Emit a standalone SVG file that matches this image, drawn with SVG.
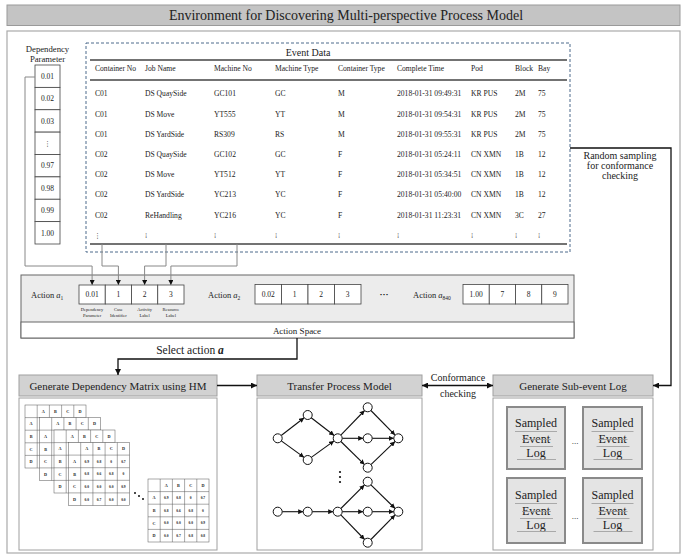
<svg xmlns="http://www.w3.org/2000/svg" width="692" height="556" viewBox="0 0 692 556">
<defs>
<style>
.t{font-family:"Liberation Serif","Times New Roman",serif;fill:#222}
.bar{fill:#d2d2d2;stroke:#a0a0a0;stroke-width:1}
.box{fill:#fff;stroke:#a0a0a0;stroke-width:1}
.cell{fill:#fff;stroke:#444;stroke-width:0.8}
.conn{fill:none;stroke:#888;stroke-width:1}
.flow{fill:none;stroke:#111;stroke-width:1.3}
.pn{fill:#fff;stroke:#111;stroke-width:1}
.pe{fill:none;stroke:#111;stroke-width:1.1}
.mg{fill:#fff;stroke:#555;stroke-width:0.5}
.slog{fill:#e4e4e4;stroke:#8a8a8a;stroke-width:2}
.sl{stroke:#999;stroke-width:0.8}
.rule{stroke:#444;stroke-width:1.5}
.mt{font-family:"Liberation Serif",serif;font-weight:bold;font-size:4.2px;fill:#222;text-anchor:middle}
.mv{font-family:"Liberation Serif",serif;font-weight:bold;font-size:3.6px;fill:#222;text-anchor:middle}
</style>
<marker id="ah" viewBox="0 0 10 10" refX="10" refY="5" markerWidth="6" markerHeight="6" markerUnits="userSpaceOnUse" orient="auto-start-reverse"><path d="M0,0 L10,5 L0,10 z" fill="#111"/></marker>
<marker id="ahs" viewBox="0 0 10 10" refX="10" refY="5" markerWidth="5" markerHeight="5" markerUnits="userSpaceOnUse" orient="auto"><path d="M0,0 L10,5 L0,10 z" fill="#111"/></marker>
<marker id="ahg" viewBox="0 0 10 10" refX="10" refY="5" markerWidth="5" markerHeight="5" markerUnits="userSpaceOnUse" orient="auto"><path d="M0,0 L10,5 L0,10 z" fill="#111"/></marker>
<path id="grid" d="M12.2 0V63M24.4 0V63M36.6 0V63M48.8 0V63M0 12.6H61M0 25.2H61M0 37.8H61M0 50.4H61"/>
</defs>

<rect width="692" height="556" fill="#fff"/>

<!-- Title and frame -->
<g id="title">
<rect x="7" y="5" width="673" height="20.5" fill="#c4c4c4" stroke="#9a9a9a"/>
<text class="t" x="346" y="20" font-size="14" text-anchor="middle">Environment for Discovering Multi-perspective Process Model</text>
</g>
<rect id="frame" x="7" y="31" width="673" height="522" fill="none" stroke="#aaa" stroke-width="1.2"/>

<!-- Dependency parameter column -->
<g id="dep-param">
<text class="t" font-size="8.7" text-anchor="middle"><tspan x="47.5" y="52">Dependency</tspan><tspan x="47.5" y="62">Parameter</tspan></text>
<rect class="cell" x="35" y="65" width="25" height="22.375"/>
<rect class="cell" x="35" y="87.375" width="25" height="22.375"/>
<rect class="cell" x="35" y="109.75" width="25" height="22.375"/>
<rect class="cell" x="35" y="132.125" width="25" height="22.375"/>
<rect class="cell" x="35" y="154.5" width="25" height="22.375"/>
<rect class="cell" x="35" y="176.875" width="25" height="22.375"/>
<rect class="cell" x="35" y="199.25" width="25" height="22.375"/>
<rect class="cell" x="35" y="221.625" width="25" height="22.375"/>
<g class="t" font-size="7.5" text-anchor="middle">
<text x="47.5" y="79">0.01</text>
<text x="47.5" y="101.3">0.02</text>
<text x="47.5" y="123.6">0.03</text>
<text x="47.5" y="146" font-family="DejaVu Sans,sans-serif" font-size="7">⋮</text>
<text x="47.5" y="168.4">0.97</text>
<text x="47.5" y="190.8">0.98</text>
<text x="47.5" y="213.1">0.99</text>
<text x="47.5" y="235.5">1.00</text>
</g>
</g>

<!-- Event data table -->
<g id="event-data">
<rect x="86" y="43" width="484" height="209" fill="none" stroke="#4d6b8c" stroke-width="1" stroke-dasharray="3,2"/>
<text class="t" x="308" y="55.5" font-size="10" text-anchor="middle">Event Data</text>
<line class="rule" x1="90" y1="60" x2="567" y2="60"/>
<line class="rule" x1="90" y1="80" x2="567" y2="80"/>
<line class="rule" x1="90" y1="244" x2="567" y2="244" stroke="#222"/>
<g class="t" font-size="7.6">
<text y="71"><tspan x="95">Container No</tspan><tspan x="145">Job Name</tspan><tspan x="214">Machine No</tspan><tspan x="275">Machine Type</tspan><tspan x="338">Container Type</tspan><tspan x="397">Complete Time</tspan><tspan x="471">Pod</tspan><tspan x="515">Block</tspan><tspan x="538">Bay</tspan></text>
<text y="96"><tspan x="95">C01</tspan><tspan x="145">DS QuaySide</tspan><tspan x="214">GC101</tspan><tspan x="275">GC</tspan><tspan x="338">M</tspan><tspan x="397">2018-01-31 09:49:31</tspan><tspan x="471">KR PUS</tspan><tspan x="515">2M</tspan><tspan x="538">75</tspan></text>
<text y="116.5"><tspan x="95">C01</tspan><tspan x="145">DS Move</tspan><tspan x="214">YT555</tspan><tspan x="275">YT</tspan><tspan x="338">M</tspan><tspan x="397">2018-01-31 09:54:31</tspan><tspan x="471">KR PUS</tspan><tspan x="515">2M</tspan><tspan x="538">75</tspan></text>
<text y="137"><tspan x="95">C01</tspan><tspan x="145">DS YardSide</tspan><tspan x="214">RS309</tspan><tspan x="275">RS</tspan><tspan x="338">M</tspan><tspan x="397">2018-01-31 09:55:31</tspan><tspan x="471">KR PUS</tspan><tspan x="515">2M</tspan><tspan x="538">75</tspan></text>
<text y="157"><tspan x="95">C02</tspan><tspan x="145">DS QuaySide</tspan><tspan x="214">GC102</tspan><tspan x="275">GC</tspan><tspan x="338">F</tspan><tspan x="397">2018-01-31 05:24:11</tspan><tspan x="471">CN XMN</tspan><tspan x="515">1B</tspan><tspan x="538">12</tspan></text>
<text y="177"><tspan x="95">C02</tspan><tspan x="145">DS Move</tspan><tspan x="214">YT512</tspan><tspan x="275">YT</tspan><tspan x="338">F</tspan><tspan x="397">2018-01-31 05:34:51</tspan><tspan x="471">CN XMN</tspan><tspan x="515">1B</tspan><tspan x="538">12</tspan></text>
<text y="197"><tspan x="95">C02</tspan><tspan x="145">DS YardSide</tspan><tspan x="214">YC213</tspan><tspan x="275">YC</tspan><tspan x="338">F</tspan><tspan x="397">2018-01-31 05:40:00</tspan><tspan x="471">CN XMN</tspan><tspan x="515">1B</tspan><tspan x="538">12</tspan></text>
<text y="217.5"><tspan x="95">C02</tspan><tspan x="145">ReHandling</tspan><tspan x="214">YC216</tspan><tspan x="275">YC</tspan><tspan x="338">F</tspan><tspan x="397">2018-01-31 11:23:31</tspan><tspan x="471">CN XMN</tspan><tspan x="515">3C</tspan><tspan x="538">27</tspan></text>
</g>
<text y="238" font-family="DejaVu Sans,sans-serif" font-size="7" fill="#555"><tspan x="94" fill="#222">⋮</tspan><tspan x="145">⁞</tspan><tspan x="214">⁞</tspan><tspan x="275">⁞</tspan><tspan x="338">⁞</tspan><tspan x="397">⁞</tspan><tspan x="471">⁞</tspan><tspan x="515">⁞</tspan><tspan x="538">⁞</tspan></text>
</g>

<!-- Action space -->
<g id="action-space">
<rect x="21" y="275" width="553" height="63" fill="#ececec" stroke="#666" stroke-width="1"/>
<rect x="21" y="322" width="553" height="16" fill="#fff" stroke="#666" stroke-width="1"/>
<text class="t" x="297" y="333.5" font-size="9" text-anchor="middle">Action Space</text>
<text class="t" x="31" y="298" font-size="8.5">Action <tspan font-style="italic">a</tspan><tspan font-size="5.5" dy="2">1</tspan></text>
<rect class="cell" x="79" y="285" width="26.25" height="19"/>
<rect class="cell" x="105.25" y="285" width="26.25" height="19"/>
<rect class="cell" x="131.5" y="285" width="26.25" height="19"/>
<rect class="cell" x="157.75" y="285" width="26.25" height="19"/>
<g class="t" font-size="7.5" text-anchor="middle">
<text x="92.1" y="297">0.01</text><text x="118.4" y="297">1</text><text x="144.6" y="297">2</text><text x="170.9" y="297">3</text>
</g>
<g class="t" font-size="4.5" text-anchor="middle">
<text x="92.1" y="311">Dependency</text><text x="92.1" y="316.5">Parameter</text>
<text x="118.4" y="311">Case</text><text x="118.4" y="316.5">Identifier</text>
<text x="144.6" y="311">Activity</text><text x="144.6" y="316.5">Label</text>
<text x="170.9" y="311">Resource</text><text x="170.9" y="316.5">Label</text>
</g>
<text class="t" x="208" y="298" font-size="8.5">Action <tspan font-style="italic">a</tspan><tspan font-size="5.5" dy="2">2</tspan></text>
<rect class="cell" x="255" y="284.5" width="26.5" height="19.5"/>
<rect class="cell" x="281.5" y="284.5" width="26.5" height="19.5"/>
<rect class="cell" x="308" y="284.5" width="26.5" height="19.5"/>
<rect class="cell" x="334.5" y="284.5" width="26.5" height="19.5"/>
<g class="t" font-size="7.5" text-anchor="middle">
<text x="268.2" y="297">0.02</text><text x="294.7" y="297">1</text><text x="321.2" y="297">2</text><text x="347.7" y="297">3</text>
</g>
<text class="t" x="384" y="297" font-size="9" font-weight="bold" text-anchor="middle">···</text>
<text class="t" x="413" y="298" font-size="8.5">Action <tspan font-style="italic">a</tspan><tspan font-size="5.5" dy="2">840</tspan></text>
<rect class="cell" x="463" y="284.5" width="26.25" height="19.5"/>
<rect class="cell" x="489.25" y="284.5" width="26.25" height="19.5"/>
<rect class="cell" x="515.5" y="284.5" width="26.25" height="19.5"/>
<rect class="cell" x="541.75" y="284.5" width="26.25" height="19.5"/>
<g class="t" font-size="7.5" text-anchor="middle">
<text x="476.1" y="297">1.00</text><text x="502.4" y="297">7</text><text x="528.6" y="297">8</text><text x="554.9" y="297">9</text>
</g>
</g>

<!-- Bottom panels -->
<g id="dep-matrix">
<rect class="bar" x="19" y="375" width="198" height="21"/>
<text class="t" x="118" y="389.5" font-size="11" text-anchor="middle">Generate Dependency Matrix using HM</text>
<rect class="box" x="19" y="398" width="198" height="152"/>
<g transform="translate(25,405)">
<rect class="mg" width="61" height="63"/><use href="#grid" class="mg"/>
<text class="mt" y="7.8"><tspan x="18.3">A</tspan><tspan x="30.5">B</tspan><tspan x="42.7">C</tspan><tspan x="54.9">D</tspan></text>
<text class="mt" x="6.1"><tspan x="6.1" y="20.4">A</tspan><tspan x="6.1" y="33">B</tspan><tspan x="6.1" y="45.6">C</tspan><tspan x="6.1" y="58.2">D</tspan></text>
</g>
<g transform="translate(39.5,417.5)">
<rect class="mg" width="61" height="63"/><use href="#grid" class="mg"/>
<text class="mt" y="7.8"><tspan x="18.3">A</tspan><tspan x="30.5">B</tspan><tspan x="42.7">C</tspan><tspan x="54.9">D</tspan></text>
<text class="mt"><tspan x="6.1" y="20.4">A</tspan><tspan x="6.1" y="33">B</tspan><tspan x="6.1" y="45.6">C</tspan><tspan x="6.1" y="58.2">D</tspan></text>
</g>
<g transform="translate(54,430)">
<rect class="mg" width="61" height="63"/><use href="#grid" class="mg"/>
<text class="mt" y="7.8"><tspan x="18.3">A</tspan><tspan x="30.5">B</tspan><tspan x="42.7">C</tspan><tspan x="54.9">D</tspan></text>
<text class="mt"><tspan x="6.1" y="20.4">A</tspan><tspan x="6.1" y="33">B</tspan><tspan x="6.1" y="45.6">C</tspan><tspan x="6.1" y="58.2">D</tspan></text>
</g>
<g transform="translate(68.5,442.5)">
<rect class="mg" width="61" height="63"/><use href="#grid" class="mg"/>
<text class="mt" y="7.8"><tspan x="18.3">A</tspan><tspan x="30.5">B</tspan><tspan x="42.7">C</tspan><tspan x="54.9">D</tspan></text>
<text class="mt"><tspan x="6.1" y="20.4">A</tspan><tspan x="6.1" y="33">B</tspan><tspan x="6.1" y="45.6">C</tspan><tspan x="6.1" y="58.2">D</tspan></text>
<text class="mv" y="20.2"><tspan x="18.3">0.9</tspan><tspan x="30.5">0.8</tspan><tspan x="42.7">0</tspan><tspan x="54.9">0.7</tspan></text>
<text class="mv" y="32.8"><tspan x="18.3">0.8</tspan><tspan x="30.5">0.6</tspan><tspan x="42.7">0.8</tspan><tspan x="54.9">0</tspan></text>
<text class="mv" y="45.4"><tspan x="18.3">0.0</tspan><tspan x="30.5">0.0</tspan><tspan x="42.7">0.0</tspan><tspan x="54.9">0.9</tspan></text>
<text class="mv" y="58"><tspan x="18.3">0.0</tspan><tspan x="30.5">0.7</tspan><tspan x="42.7">0.0</tspan><tspan x="54.9">0.0</tspan></text>
</g>
<circle cx="135" cy="493" r="1" fill="#111"/><circle cx="139" cy="496" r="1" fill="#111"/><circle cx="143" cy="499" r="1" fill="#111"/>
<g transform="translate(148,479)">
<rect class="mg" width="61" height="63"/><use href="#grid" class="mg"/>
<text class="mt" y="7.8"><tspan x="18.3">A</tspan><tspan x="30.5">B</tspan><tspan x="42.7">C</tspan><tspan x="54.9">D</tspan></text>
<text class="mt"><tspan x="6.1" y="20.4">A</tspan><tspan x="6.1" y="33">B</tspan><tspan x="6.1" y="45.6">C</tspan><tspan x="6.1" y="58.2">D</tspan></text>
<text class="mv" y="20.2"><tspan x="18.3">0.9</tspan><tspan x="30.5">0.8</tspan><tspan x="42.7">0</tspan><tspan x="54.9">0.7</tspan></text>
<text class="mv" y="32.8"><tspan x="18.3">0.8</tspan><tspan x="30.5">0.6</tspan><tspan x="42.7">0.8</tspan><tspan x="54.9">0</tspan></text>
<text class="mv" y="45.4"><tspan x="18.3">0.0</tspan><tspan x="30.5">0.0</tspan><tspan x="42.7">0.0</tspan><tspan x="54.9">0.9</tspan></text>
<text class="mv" y="58"><tspan x="18.3">0.0</tspan><tspan x="30.5">0.7</tspan><tspan x="42.7">0.8</tspan><tspan x="54.9">0.8</tspan></text>
</g>
</g>

<g id="process-model">
<rect class="bar" x="257" y="375" width="165" height="21"/>
<text class="t" x="339.5" y="389.5" font-size="11" text-anchor="middle">Transfer Process Model</text>
<rect class="box" x="257" y="398" width="165" height="152"/>
<g class="pe" marker-end="url(#ahs)">
<line x1="281.2" y1="435.5" x2="304.2" y2="417.8"/>
<line x1="281.3" y1="440.9" x2="304.1" y2="457.4"/>
<line x1="311.2" y1="417.8" x2="334.2" y2="435.5"/>
<line x1="311.3" y1="457.4" x2="334.1" y2="440.9"/>
<line x1="340.8" y1="435.1" x2="364.6" y2="410.5"/>
<line x1="342.2" y1="438.3" x2="363.2" y2="438.3"/>
<line x1="340.9" y1="441.5" x2="364.5" y2="464.6"/>
<line x1="370.9" y1="410.5" x2="395.1" y2="435.1"/>
<line x1="372.2" y1="438.3" x2="393.8" y2="438.3"/>
<line x1="370.9" y1="464.6" x2="395.1" y2="441.4"/>
<line x1="282.2" y1="511.7" x2="303.2" y2="511.7"/>
<line x1="312.2" y1="511.7" x2="333.2" y2="511.7"/>
<line x1="340.9" y1="508.5" x2="364.5" y2="484.9"/>
<line x1="342.2" y1="511.7" x2="363.2" y2="511.7"/>
<line x1="340.8" y1="514.9" x2="364.6" y2="539.5"/>
<line x1="370.9" y1="484.9" x2="395.1" y2="508.5"/>
<line x1="372.2" y1="511.7" x2="393.8" y2="511.7"/>
<line x1="370.9" y1="539.5" x2="395.1" y2="514.9"/>
</g>
<g class="pn">
<circle cx="277.7" cy="438.3" r="4.5"/><circle cx="307.7" cy="415" r="4.5"/><circle cx="307.7" cy="460" r="4.5"/>
<circle cx="337.7" cy="438.3" r="4.5"/><circle cx="367.7" cy="407.3" r="4.5"/><circle cx="367.7" cy="438.3" r="4.5"/>
<circle cx="367.7" cy="467.7" r="4.5"/><circle cx="398.3" cy="438.3" r="4.5"/>
<circle cx="277.7" cy="511.7" r="4.5"/><circle cx="307.7" cy="511.7" r="4.5"/><circle cx="337.7" cy="511.7" r="4.5"/>
<circle cx="367.7" cy="481.7" r="4.5"/><circle cx="367.7" cy="511.7" r="4.5"/><circle cx="367.7" cy="542.7" r="4.5"/>
<circle cx="398.3" cy="511.7" r="4.5"/>
</g>
<g fill="#111"><circle cx="340" cy="472" r="1.1"/><circle cx="340" cy="477" r="1.1"/><circle cx="340" cy="482" r="1.1"/></g>
</g>

<g id="sub-event-log">
<rect class="bar" x="493" y="375" width="160" height="21"/>
<text class="t" x="573" y="389.5" font-size="11" text-anchor="middle">Generate Sub-event Log</text>
<rect class="box" x="493" y="398" width="160" height="152"/>
<g id="slog1">
<rect class="slog" x="507" y="407" width="58" height="62"/>
<text class="t" font-size="12" text-anchor="middle"><tspan x="536" y="427">Sampled</tspan><tspan x="536" y="443">Event</tspan><tspan x="536" y="457">Log</tspan></text>
<path class="sl" d="M515 431.5H557M522 439.5H551M520 446.5H553M517 459.5H556"/>
</g>
<g id="slog2">
<rect class="slog" x="583" y="407" width="59" height="62"/>
<text class="t" font-size="12" text-anchor="middle"><tspan x="612.5" y="427">Sampled</tspan><tspan x="612.5" y="443">Event</tspan><tspan x="612.5" y="457">Log</tspan></text>
<path class="sl" d="M591.5 431.5H633.5M598.5 439.5H627.5M596.5 446.5H629.5M593.5 459.5H632.5"/>
</g>
<g id="slog3">
<rect class="slog" x="507" y="478" width="58" height="65"/>
<text class="t" font-size="12" text-anchor="middle"><tspan x="536" y="499">Sampled</tspan><tspan x="536" y="515">Event</tspan><tspan x="536" y="529">Log</tspan></text>
<path class="sl" d="M515 503.5H557M522 511.5H551M520 518.5H553M517 531.5H556"/>
</g>
<g id="slog4">
<rect class="slog" x="583" y="478" width="59" height="65"/>
<text class="t" font-size="12" text-anchor="middle"><tspan x="612.5" y="499">Sampled</tspan><tspan x="612.5" y="515">Event</tspan><tspan x="612.5" y="529">Log</tspan></text>
<path class="sl" d="M591.5 503.5H633.5M598.5 511.5H627.5M596.5 518.5H629.5M593.5 531.5H632.5"/>
</g>
<text class="t" x="575" y="444" font-size="9" text-anchor="middle">...</text>
<text class="t" x="575" y="519" font-size="9" text-anchor="middle">...</text>
</g>

<!-- Connectors -->
<g id="connectors">
<g class="conn" marker-end="url(#ahg)">
<path d="M35 77H25V266H92.1V285"/>
<path d="M102 244V266H118.4V285"/>
<path d="M166 244V266H144.6V285"/>
<path d="M237 244V266H170.9V285"/>
</g>
<path class="flow" d="M570 148H671V385.5H653" marker-end="url(#ah)"/>
<path class="flow" d="M297 338V359H118V375" marker-end="url(#ah)"/>
<line class="flow" x1="217" y1="385.5" x2="257" y2="385.5" marker-end="url(#ah)"/>
<line class="flow" x1="422" y1="385.5" x2="493" y2="385.5" marker-start="url(#ah)" marker-end="url(#ah)"/>
<text class="t" font-size="10" text-anchor="middle"><tspan x="620" y="158.5">Random sampling</tspan><tspan x="620" y="168.5">for conformance</tspan><tspan x="620" y="178.5">checking</tspan></text>
<text class="t" x="190" y="354" font-size="11.5" text-anchor="middle">Select action <tspan font-weight="bold" font-style="italic">a</tspan></text>
<text class="t" font-size="10" text-anchor="middle"><tspan x="458" y="380.5">Conformance</tspan><tspan x="458" y="396.5">checking</tspan></text>
</g>
</svg>
